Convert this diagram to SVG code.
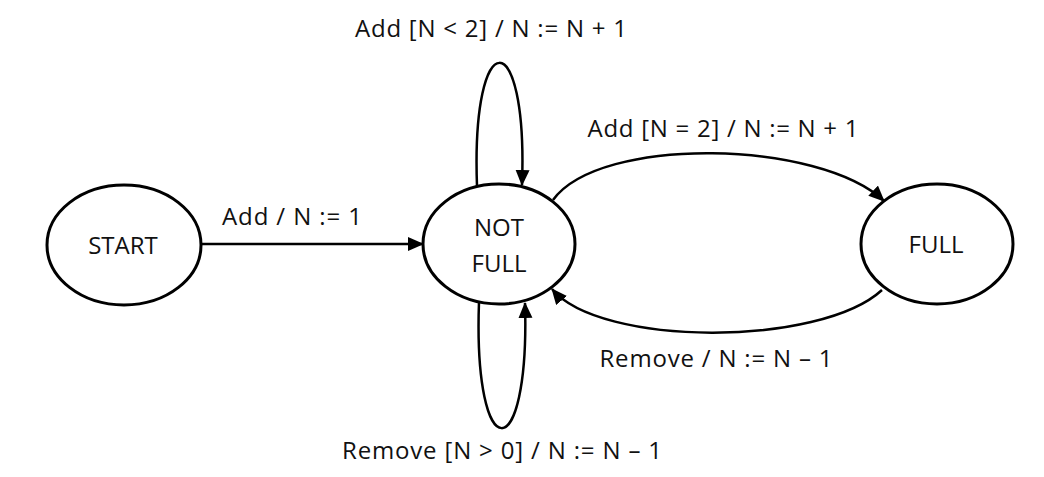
<svg xmlns="http://www.w3.org/2000/svg" width="1044" height="477" viewBox="0 0 1044 477">
<style>
.node ellipse{fill:#fff;stroke:#000;stroke-width:3}
text{font-family:"Open Sans","Noto Sans","Liberation Sans",sans-serif;font-size:24px;fill:#111;text-anchor:middle}
.edge{fill:none;stroke:#000;stroke-width:2.5;marker-end:url(#arr)}
</style>
<defs>
<marker id="arr" markerUnits="userSpaceOnUse" markerWidth="18" markerHeight="15" refX="15" refY="7" orient="auto">
<path d="M0,0 L16,7 L0,14 z" fill="#000"/>
</marker>
</defs>
<rect width="1044" height="477" fill="#fff"/>
<g id="connectors">
<path class="edge" d="M201,244 L423,244"/>
<path class="edge" d="M477,186 C471,22 528,22 522,185"/>
<path class="edge" d="M479,302 C473,470 530,470 525,303"/>
<path class="edge" d="M553,200 C600,135 820,140 884,201"/>
<path class="edge" d="M882,290 C820,347 600,347 552,289"/>
</g>
<g id="labels">
<text x="491" y="37" textLength="272" lengthAdjust="spacing">Add [N &lt; 2] / N := N + 1</text>
<text x="723" y="137" textLength="271" lengthAdjust="spacing">Add [N = 2] / N := N + 1</text>
<text x="292" y="225" textLength="140" lengthAdjust="spacing">Add / N := 1</text>
<text x="716" y="367" textLength="233" lengthAdjust="spacing">Remove / N := N – 1</text>
<text x="502" y="459" textLength="320" lengthAdjust="spacing">Remove [N &gt; 0] / N := N – 1</text>
</g>
<g id="start" class="node">
<ellipse cx="124" cy="245" rx="77" ry="60"/>
<text x="123" y="254">START</text>
</g>
<g id="notfull" class="node">
<ellipse cx="499" cy="244" rx="76" ry="60"/>
<text x="499" y="236">NOT</text>
<text x="499" y="272">FULL</text>
</g>
<g id="full" class="node">
<ellipse cx="937" cy="244" rx="76" ry="60"/>
<text x="936" y="253">FULL</text>
</g>
</svg>
